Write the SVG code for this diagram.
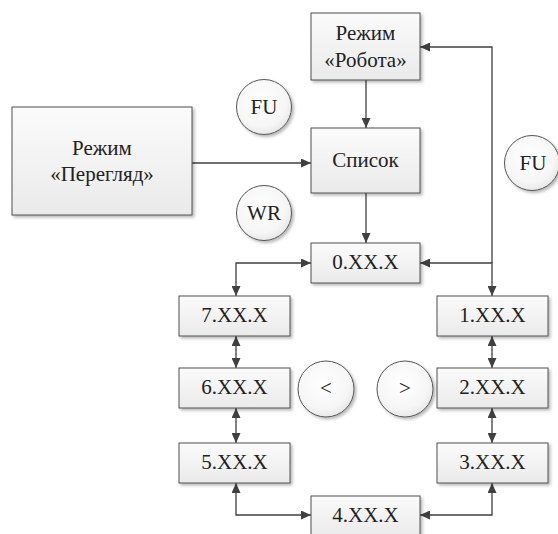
<svg xmlns="http://www.w3.org/2000/svg" width="558" height="534" viewBox="0 0 558 534">
<defs>
<linearGradient id="boxg" x1="0" y1="0" x2="0" y2="1">
<stop offset="0" stop-color="#fbfbfb"/>
<stop offset="1" stop-color="#eaeaea"/>
</linearGradient>
<radialGradient id="circg" cx="0.45" cy="0.4" r="0.65">
<stop offset="0" stop-color="#ffffff"/>
<stop offset="0.7" stop-color="#f6f6f6"/>
<stop offset="1" stop-color="#e4e4e4"/>
</radialGradient>
<filter id="sh" x="-20%" y="-20%" width="150%" height="150%">
<feDropShadow dx="2" dy="2" stdDeviation="1.5" flood-color="#000" flood-opacity="0.28"/>
</filter>
<marker id="ah" markerUnits="userSpaceOnUse" markerWidth="11" markerHeight="9" refX="10" refY="4.5" orient="auto-start-reverse">
<path d="M0,0 L10,4.5 L0,9 Z" fill="#404040"/>
</marker>
</defs>
<style>
.box{fill:url(#boxg);stroke:#505050;stroke-width:1;filter:url(#sh)}
.circ{fill:url(#circg);stroke:#555;stroke-width:1;filter:url(#sh)}
text{font-family:"Liberation Serif","Times New Roman",serif;font-size:21px;fill:#222;text-anchor:middle}
.con{fill:none;stroke:#404040;stroke-width:1.3}
.e{marker-end:url(#ah)}
.b{marker-start:url(#ah);marker-end:url(#ah)}
</style>
<g id="connectors">
<path class="con e" d="M366,80 V128"/>
<path class="con e" d="M192,163 H311"/>
<path class="con e" d="M366,193 V243"/>
<path class="con e" d="M492,263 V47 H420"/>
<path class="con b" d="M420,263 H492 V296"/>
<path class="con b" d="M311,263 H236 V296"/>
<path class="con b" d="M236,336 V368"/>
<path class="con b" d="M236,408 V443"/>
<path class="con b" d="M236,483 V515 H311"/>
<path class="con b" d="M492,336 V368"/>
<path class="con b" d="M492,408 V443"/>
<path class="con b" d="M492,483 V515 H420"/>
</g>
<g id="perehliad"><rect class="box" x="12" y="107" width="180" height="108"/><text x="102" y="155">Режим</text><text x="102" y="181">«Перегляд»</text></g>
<g id="robota"><rect class="box" x="311" y="13" width="109" height="67"/><text x="365.5" y="40">Режим</text><text x="365.5" y="67">«Робота»</text></g>
<g id="spysok"><rect class="box" x="311" y="128" width="109" height="65"/><text x="365.5" y="167">Список</text></g>
<g id="n0"><rect class="box" x="311" y="243" width="109" height="40"/><text x="365.5" y="269">0.XX.X</text></g>
<g id="n7"><rect class="box" x="179" y="296" width="111" height="40"/><text x="234.5" y="322">7.XX.X</text></g>
<g id="n1"><rect class="box" x="437" y="296" width="111" height="40"/><text x="492.5" y="322">1.XX.X</text></g>
<g id="n6"><rect class="box" x="179" y="368" width="111" height="40"/><text x="234.5" y="394">6.XX.X</text></g>
<g id="n2"><rect class="box" x="437" y="368" width="111" height="40"/><text x="492.5" y="394">2.XX.X</text></g>
<g id="n5"><rect class="box" x="179" y="443" width="111" height="40"/><text x="234.5" y="469">5.XX.X</text></g>
<g id="n3"><rect class="box" x="437" y="443" width="111" height="40"/><text x="492.5" y="469">3.XX.X</text></g>
<g id="n4"><rect class="box" x="311" y="496" width="109" height="40"/><text x="365.5" y="522">4.XX.X</text></g>
<g id="fu1"><circle class="circ" cx="264" cy="107" r="27.5"/><text x="264" y="114">FU</text></g>
<g id="wr"><circle class="circ" cx="264" cy="213" r="27.5"/><text x="264" y="220">WR</text></g>
<g id="fu2"><circle class="circ" cx="532" cy="163" r="27.5"/><text x="533" y="170">FU</text></g>
<g id="lt"><circle class="circ" cx="326" cy="389" r="28"/><text x="326" y="395">&lt;</text></g>
<g id="gt"><circle class="circ" cx="405" cy="389" r="28"/><text x="405" y="395">&gt;</text></g>
</svg>
